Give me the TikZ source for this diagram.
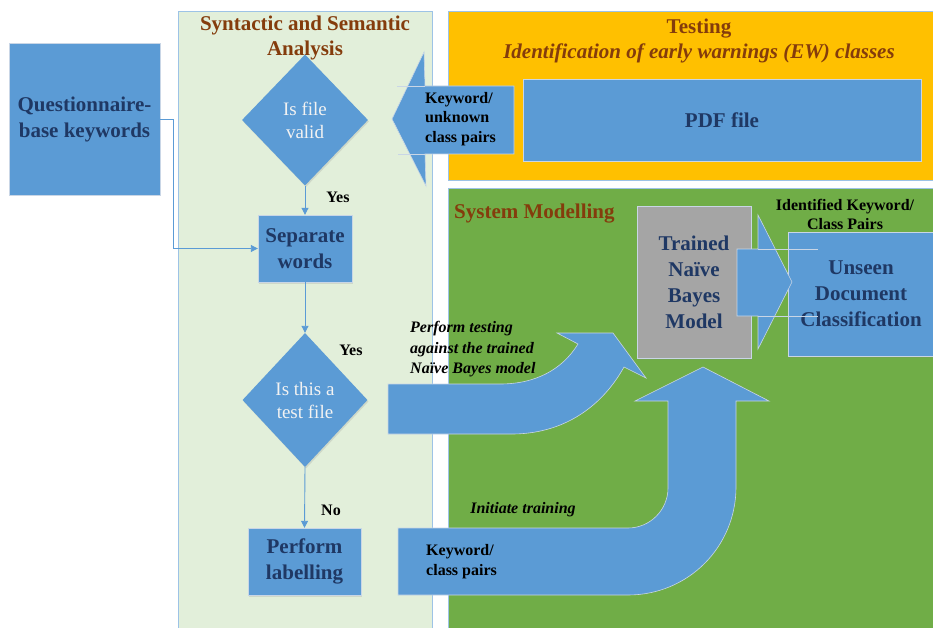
\documentclass[tikz,border=0pt]{standalone}
\usepackage{fontspec}
\setmainfont{Liberation Serif}[
  BoldFont={Liberation Serif Bold},
  ItalicFont={Liberation Serif Italic},
  BoldItalicFont={Liberation Serif Bold Italic}]
\usetikzlibrary{shapes.geometric,shadows,arrows.meta}
\definecolor{boxblue}{HTML}{5B9BD5}
\definecolor{navy}{HTML}{1F3864}
\definecolor{rust}{HTML}{843C0C}
\definecolor{amber}{HTML}{FFC000}
\definecolor{leaf}{HTML}{70AD47}
\definecolor{mint}{HTML}{E2EFDA}
\definecolor{stone}{HTML}{A5A5A5}
\definecolor{edge}{HTML}{9DC3E6}
\definecolor{rim}{HTML}{C9D6E6}
\definecolor{pale}{HTML}{F2F2F2}

\begin{document}
\begin{tikzpicture}[x=1pt,y=-1pt,
  panel/.style={draw=edge, line width=0.8pt},
  softshadow/.style={drop shadow={shadow xshift=1pt, shadow yshift=-1.5pt, opacity=0.2}},
  bluebox/.style={rectangle, fill=boxblue, draw=rim, line width=0.4pt, inner sep=0pt,
    align=center, text=navy, font=\bfseries\fontsize{21}{26}\selectfont, softshadow},
  greybox/.style={bluebox, fill=stone},
  decision/.style={diamond, fill=boxblue, inner sep=0pt, align=center, text=pale,
    font=\fontsize{19}{23}\selectfont, softshadow},
  paneltitle/.style={text=rust, align=center, font=\bfseries\fontsize{21}{25}\selectfont},
  tag/.style={align=left, inner sep=0pt, font=\bfseries\fontsize{16}{19.5}\selectfont},
  itag/.style={align=left, inner sep=0pt, font=\bfseries\itshape\fontsize{16}{20.5}\selectfont},
  conn/.style={draw=boxblue, line width=0.9pt, -{Triangle[length=7pt,width=7pt]}},
  blockarrow/.style={fill=boxblue, draw=rim, line width=0.6pt, line join=miter},
  rimline/.style={draw=rim, line width=0.6pt}
]
\useasboundingbox (0,0) rectangle (933,628);
\fill[white] (0,0) rectangle (933,628);

% background panels
\filldraw[panel, fill=mint] (178,11) rectangle (432,640);
\filldraw[panel, fill=amber] (448,11) rectangle (945,180);
\filldraw[panel, fill=leaf] (448,188) rectangle (945,640);

\node[paneltitle] (syntitle) at (305,38) {Syntactic and Semantic\\Analysis};
\node[paneltitle] (testtitle) at (699,41)
  {Testing\\\itshape\fontsize{21}{26}\selectfont Identification of early warnings (EW) classes};
\node[paneltitle, anchor=west, inner sep=0pt] (modtitle) at (454,214) {System Modelling};

% flowchart boxes
\node[bluebox, minimum width=151pt, minimum height=152pt] (quest) at (84.5,119)
  {Questionnaire-\\base keywords};
\node[decision, minimum width=126pt, minimum height=131pt] (valid) at (305,120) {Is file\\valid};
\node[bluebox, minimum width=94pt, minimum height=67pt] (sep) at (305,248.5) {Separate\\words};
\node[decision, minimum width=125pt, minimum height=134pt] (istest) at (305,400) {Is this a\\test file};
\node[bluebox, minimum width=113pt, minimum height=67pt] (label) at (304.5,561.5) {Perform\\labelling};

\node[bluebox, minimum width=398pt, minimum height=82pt] (pdf) at (722,120) {PDF file};
\node[greybox, minimum width=114pt, minimum height=152pt] (model) at (694,282)
  {Trained\\Naïve\\Bayes\\Model};
\node[bluebox, minimum width=146pt, minimum height=124pt] (unseen) at (861,294)
  {Unseen\\Document\\Classification};

% thin connectors
\draw[conn] (valid.south) -- (sep.north);
\draw[conn] (sep.south) -- (istest.north);
\draw[conn] (istest.south) -- (label.north);
\draw[conn] (quest.east) -- ++(13,0) |- (sep.west);

% block arrow: PDF file back to the validity check
\path[blockarrow] (514,86) -- (425,86) -- (424,52) -- (392,119) -- (426,186)
  -- (425,154) -- (514,154) -- cycle;
\draw[rimline] (397,86) -- (425,86) (398,154) -- (425,154);

% block arrow: model to unseen document classification
\path[blockarrow] (737,249) -- (758,249) -- (758,215) -- (792,282) -- (758,349)
  -- (758,316) -- (737,316) -- cycle;
\draw[rimline] (758,249) -- (818,249) (758,316) -- (818,316);

% curved block arrow: test file into the trained model
\path[blockarrow] (388,384) -- (500,384) .. controls (535,384) and (562,370) .. (578,344)
  -- (557,333) -- (613,333) -- (646,378) -- (624,367)
  .. controls (600,410) and (560,434) .. (512,434) -- (388,434) -- cycle;

% U-shaped block arrow: labelled pairs into training
\path[blockarrow] (398,528) -- (628,528) .. controls (650,528) and (668,510) .. (668,488)
  -- (668,401) -- (635,401) -- (703,367) -- (769,401) -- (736,401) -- (736,487)
  .. controls (736,547) and (688,595) .. (628,595) -- (398,595) -- cycle;

% labels
\node[tag, anchor=west] (kwunk) at (425,119) {Keyword/\\unknown\\class pairs};
\node[tag, anchor=west] (kwcls) at (426,561.5) {Keyword/\\class pairs};
\node[tag, align=center] (ident) at (845,214.5) {Identified Keyword/\\Class Pairs};
\node[tag] (yes1) at (338,197) {Yes};
\node[tag] (yes2) at (351,350) {Yes};
\node[tag] (no) at (331,510) {No};
\node[itag, anchor=west] (perftest) at (410,349.5)
  {Perform testing\\against the trained\\Naïve Bayes model};
\node[itag] (train) at (523,510) {Initiate training};
\end{tikzpicture}
\end{document}
